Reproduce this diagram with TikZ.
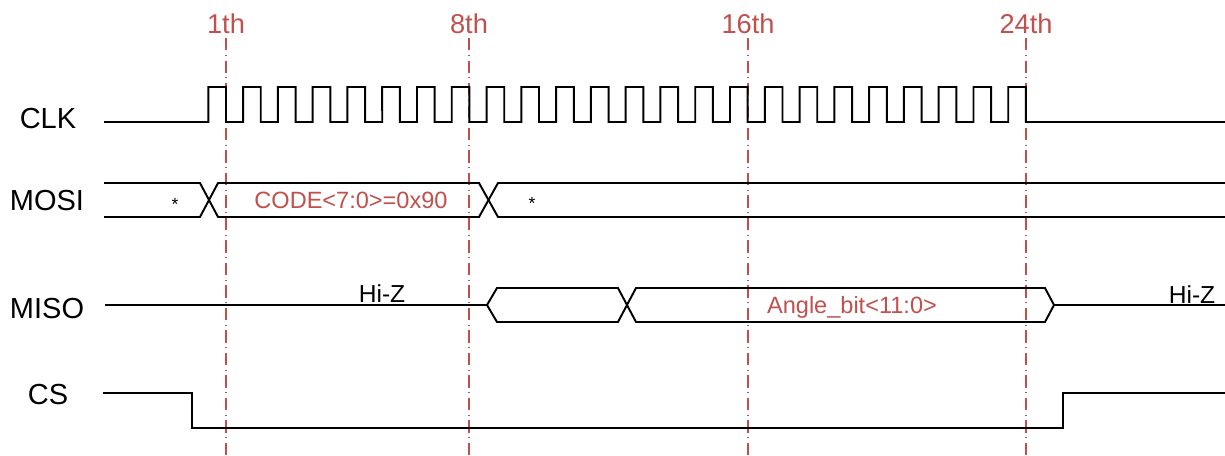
\documentclass[tikz,border=0pt]{standalone}
\usepackage{fontspec}
\setmainfont{Liberation Sans}
\usetikzlibrary{calc}
\definecolor{R}{RGB}{192,80,77}
\tikzstyle{wave} = [line width=1.1pt, black, line join=miter]
\tikzstyle{marker} = [R, line width=1pt,
dash pattern=on 7pt off 2.6pt on 0.6pt off 2.6pt]
\tikzstyle{signame} = [inner sep=0pt, font=\fontsize{16.5}{18}\selectfont]
\tikzstyle{tick} = [R, inner sep=0pt, font=\fontsize{15.5}{18}\selectfont]
\tikzstyle{busval} = [R, inner sep=0pt, anchor=base, font=\fontsize{13.4}{15}\selectfont]
\tikzstyle{note} = [inner sep=0pt, font=\fontsize{14}{16}\selectfont]
\tikzstyle{dontcare} = [inner sep=0pt, font=\fontsize{10}{12}\selectfont]

\begin{document}
\begin{tikzpicture}[x=0.02cm,y=-0.02cm]
        \useasboundingbox (0,0) rectangle (1225,456);
        \coordinate (bot) at (0,456);
        % signal names
        \node[signame] (clk) at (48,118.5) {CLK};
        \node[signame] (mosi) at (47,201) {MOSI};
        \node[signame] (miso) at (47,309) {MISO};
        \node[signame] (cs) at (48,395) {CS};
        % bit markers
        \foreach \N/\X in {1/226,8/469,16/748,24/1026}
          {\node[tick] (t-\N) at (\X,24) {\N th};
        \draw[marker] ([yshift=-8pt]t-\N.center) -- (t-\N.center |- bot);
        }
        % clock
        \draw[wave] (104,122) -- (208.3,122)
          foreach \K in {0,...,23} {
          -- ({208.3+\K*34.78},87) -- ({226+\K*34.78},87)
          -- ({226+\K*34.78},122) -- ({243.1+\K*34.78},122)}
          -- (1225,122);
        % MOSI
        \draw[wave] (104,183) -- (200,183) -- (218,217) -- (479,217) -- (498,183) -- (1225,183);
        \draw[wave] (104,217) -- (200,217) -- (218,183) -- (479,183) -- (498,217) -- (1225,217);
        \node[dontcare] (dc-1) at (175,204) {*};
        \node[busval] (code) at (351,209) {CODE<7:0>=0x90};
        \node[dontcare] (dc-2) at (532,203) {*};
        % MISO
        \draw[wave] (105,305) -- (487,305) -- (497,288) -- (618,288) -- (636,322)
          -- (1045,322) -- (1054,305) -- (1225,305);
        \draw[wave] (487,305) -- (497,322) -- (618,322) -- (636,288) -- (1045,288) -- (1054,305);
        \node[note] (hiz-1) at (382,294) {Hi-Z};
        \node[note] (hiz-2) at (1192,295) {Hi-Z};
        \node[busval] (angle) at (852,313.5) {Angle\_bit<11:0>};
        % CS
        \draw[wave] (103,393) -- (192,393) -- (192,428) -- (1063,428) -- (1063,393) -- (1225,393);
\end{tikzpicture}
\end{document}
